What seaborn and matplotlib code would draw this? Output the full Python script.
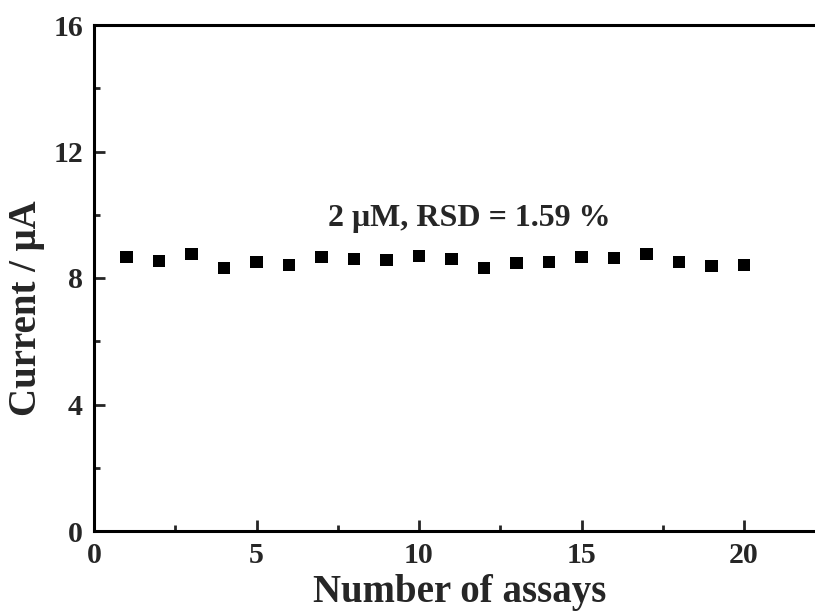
"""
Repeatability plot: current response over 20 successive assays (2 uM).
"""

import numpy as np
import pandas as pd
import matplotlib
matplotlib.use("Agg")
import matplotlib.pyplot as plt
import seaborn as sns
from matplotlib.ticker import MultipleLocator

# ==============================================================================
# DATA
# ==============================================================================

assay_no = list(range(1, 21))
current_uA = [8.67, 8.54, 8.76, 8.31, 8.50, 8.41, 8.65, 8.61, 8.57, 8.69,
              8.59, 8.33, 8.46, 8.50, 8.67, 8.62, 8.75, 8.52, 8.39, 8.41]
annotation = "2 μM, RSD = 1.59 %"
x_label = "Number of assays"
y_label = "Current / μA"
x_ticks = [0, 5, 10, 15, 20]
y_ticks = [0, 4, 8, 12, 16]

# ==============================================================================
# PLOT
# ==============================================================================

sns.set_style("ticks")
plt.rcParams['font.family'] = ['Liberation Serif', 'DejaVu Serif']
plt.rcParams['font.weight'] = 'bold'

df = pd.DataFrame({"assay": assay_no, "current": current_uA})

fig = plt.figure(figsize=(8.15, 6.11), dpi=100)
ax = fig.add_axes([94 / 815, 80 / 611, 721 / 815, 506 / 611])

sns.scatterplot(data=df, x="assay", y="current", marker="s", s=75,
                color="black", edgecolor="none", ax=ax, legend=False)

ax.set_xlim(0, 721 / 32.5)
ax.set_ylim(0, 16)
ax.set_xticks(x_ticks)
ax.set_yticks(y_ticks)
ax.xaxis.set_minor_locator(MultipleLocator(2.5))
ax.yaxis.set_minor_locator(MultipleLocator(2))

for side in ["left", "bottom", "top"]:
    ax.spines[side].set_linewidth(2.2)
    ax.spines[side].set_color("black")
ax.spines["right"].set_visible(False)

ax.tick_params(which="major", direction="in", length=8, width=2,
               labelsize=21.5, pad=8, top=False, right=False)
ax.tick_params(which="minor", direction="in", length=4.5, width=2,
               top=False, right=False)
for lab in ax.get_xticklabels() + ax.get_yticklabels():
    lab.set_fontweight("bold")

ax.set_xlabel(x_label, fontsize=28, fontweight="bold")
ax.set_ylabel(y_label, fontsize=28, fontweight="bold")
ax.xaxis.set_label_coords(0.507, -0.084)
ax.yaxis.set_label_coords(-0.068, 0.44)

ax.text(11.54, 9.87, annotation, ha="center", va="center",
        fontsize=23, fontweight="bold")

fig.savefig("out.png", dpi=100)
plt.close(fig)
